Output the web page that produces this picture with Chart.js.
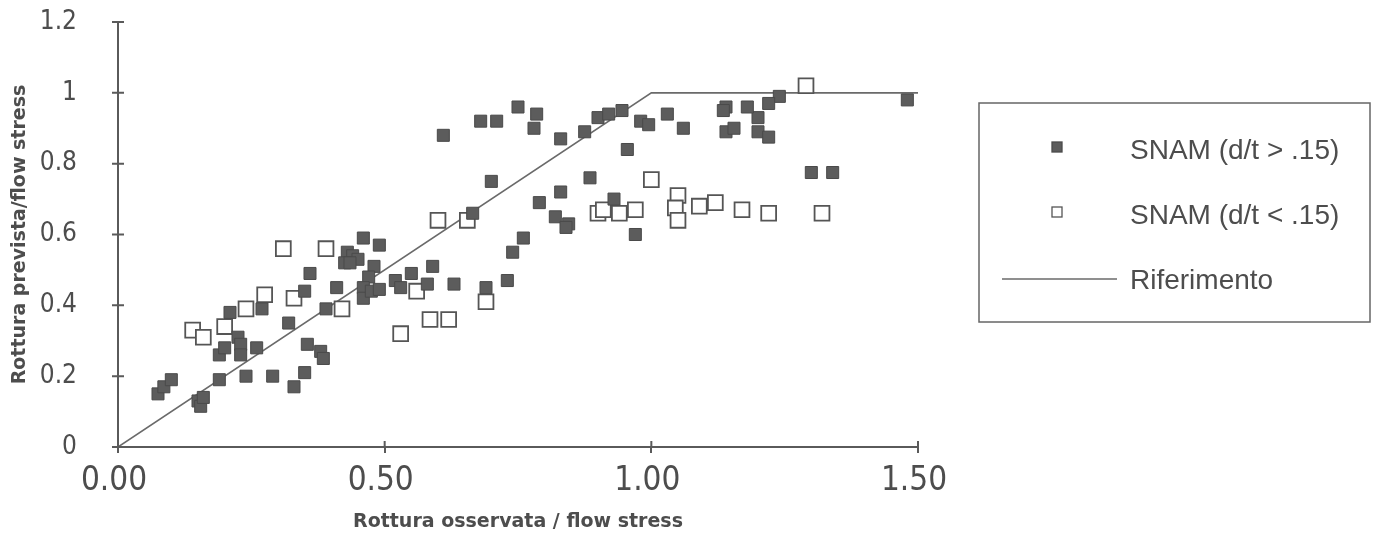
<!DOCTYPE html>
<html>
<head>
<meta charset="utf-8">
<title>Rottura prevista / rottura osservata</title>
<script src="https://cdn.jsdelivr.net/npm/chart.js@4.4.1/dist/chart.umd.min.js"></script>
<style>
  html, body { margin: 0; padding: 0; background: #ffffff; }
  #wrap { width: 1379px; height: 539px; }
</style>
</head>
<body>
<div id="wrap"><canvas id="chart" width="1379" height="539"></canvas></div>
<script>
// SNAM tests, d/t > .15 (filled squares)
const snamHighX = [
  0.075, 0.086, 0.10, 0.15, 0.155, 0.16, 0.19, 0.19, 0.20, 0.21,
  0.225, 0.23, 0.23, 0.24, 0.26, 0.27, 0.29, 0.32, 0.33, 0.35,
  0.355, 0.38, 0.385, 0.36, 0.35, 0.39, 0.41, 0.46, 0.49, 0.43,
  0.44, 0.45, 0.425, 0.435, 0.48, 0.47, 0.46, 0.46, 0.475, 0.49,
  0.52, 0.53, 0.55, 0.59, 0.58, 0.63, 0.69, 0.73, 0.74, 0.76,
  0.61, 0.68, 0.71, 0.75, 0.785, 0.78, 0.83, 0.875, 0.90, 0.92,
  0.945, 0.98, 0.995, 1.03, 0.955, 0.70, 0.665, 0.885, 0.83, 0.79,
  0.82, 0.845, 0.84, 0.93, 0.97, 1.24, 1.22, 1.20, 1.18, 1.14,
  1.135, 1.06, 1.14, 1.155, 1.20, 1.22, 1.30, 1.34, 1.48
];
const snamHighY = [
  0.15, 0.17, 0.19, 0.13, 0.115, 0.14, 0.19, 0.26, 0.28, 0.38,
  0.31, 0.29, 0.26, 0.20, 0.28, 0.39, 0.20, 0.35, 0.17, 0.21,
  0.29, 0.27, 0.25, 0.49, 0.44, 0.39, 0.45, 0.59, 0.57, 0.55,
  0.54, 0.53, 0.52, 0.52, 0.51, 0.48, 0.45, 0.42, 0.44, 0.445,
  0.47, 0.45, 0.49, 0.51, 0.46, 0.46, 0.45, 0.47, 0.55, 0.59,
  0.88, 0.92, 0.92, 0.96, 0.94, 0.90, 0.87, 0.89, 0.93, 0.94,
  0.95, 0.92, 0.91, 0.94, 0.84, 0.75, 0.66, 0.76, 0.72, 0.69,
  0.65, 0.63, 0.62, 0.70, 0.60, 0.99, 0.97, 0.93, 0.96, 0.96,
  0.95, 0.90, 0.89, 0.90, 0.89, 0.875, 0.775, 0.775, 0.98
];

// SNAM tests, d/t < .15 (open squares)
const snamLowX = [
  0.14, 0.16, 0.20, 0.24, 0.275, 0.31, 0.39, 0.33, 0.42, 0.56,
  0.53, 0.585, 0.62, 0.69, 0.60, 0.655, 1.00, 0.90, 0.91, 0.94,
  0.97, 1.05, 1.045, 1.05, 1.09, 1.12, 1.17, 1.22, 1.32, 1.29
];
const snamLowY = [
  0.33, 0.31, 0.34, 0.39, 0.43, 0.56, 0.56, 0.42, 0.39, 0.44,
  0.32, 0.36, 0.36, 0.41, 0.64, 0.64, 0.755, 0.66, 0.67, 0.66,
  0.67, 0.71, 0.675, 0.64, 0.68, 0.69, 0.67, 0.66, 0.66, 1.02
];

// Reference curve: predicted = observed up to 1, then flat
const refX = [0, 1.0, 1.5];
const refY = [0, 1.0, 1.0];

const xTickLabels = ['0.00', '0.50', '1.00', '1.50'];
const yTickLabels = ['0', '0.2', '0.4', '0.6', '0.8', '1', '1.2'];

const seriesLabels = ['SNAM (d/t > .15)', 'SNAM (d/t < .15)', 'Riferimento'];

const toPoints = (xs, ys) => xs.map((x, i) => ({ x: x, y: ys[i] }));

const INK = '#4d4d4d';
const AXIS = '#5a5a5a';
const NARROW = "'Liberation Sans Narrow', 'DejaVu Sans Condensed', 'Arial Narrow', sans-serif";

// Tick marks that cross the axis lines on both sides
const crossTicks = {
  id: 'crossTicks',
  afterDraw(chart) {
    const ctx = chart.ctx;
    const xs = chart.scales.x, ys = chart.scales.y;
    const len = 6;
    ctx.save();
    ctx.strokeStyle = AXIS;
    ctx.lineWidth = 2;
    ctx.beginPath();
    ys.ticks.forEach((t, i) => {
      const py = ys.getPixelForTick(i);
      ctx.moveTo(xs.left - len, py);
      ctx.lineTo(xs.left + len, py);
    });
    xs.ticks.forEach((t, i) => {
      const px = xs.getPixelForTick(i);
      ctx.moveTo(px, ys.bottom);
      ctx.lineTo(px, ys.bottom - len);
    });
    ctx.stroke();
    ctx.restore();
  }
};

// Boxed legend at the right of the plot
const boxLegend = {
  id: 'boxLegend',
  afterDraw(chart) {
    const ctx = chart.ctx;
    const box = { left: 979, top: 103, right: 1370, bottom: 322 };
    const rows = [151, 216, 281];
    const markX = 1057;
    const textX = 1130;
    ctx.save();
    ctx.strokeStyle = '#666666';
    ctx.lineWidth = 1.5;
    ctx.strokeRect(box.left, box.top, box.right - box.left, box.bottom - box.top);

    ctx.font = "28px 'Liberation Sans', Arial, sans-serif";
    ctx.fillStyle = INK;
    ctx.textBaseline = 'middle';
    ctx.textAlign = 'left';

    chart.data.datasets.forEach((ds, i) => {
      const y = rows[i];
      if (ds.showLine) {
        ctx.strokeStyle = ds.borderColor;
        ctx.lineWidth = ds.borderWidth;
        ctx.beginPath();
        ctx.moveTo(1002, y - 2);
        ctx.lineTo(1117, y - 2);
        ctx.stroke();
      } else {
        const s = 10;
        ctx.fillStyle = ds.backgroundColor;
        ctx.fillRect(markX - s / 2, y - 4 - s / 2, s, s);
        ctx.strokeStyle = ds.borderColor;
        ctx.lineWidth = 1.3;
        ctx.strokeRect(markX - s / 2, y - 4 - s / 2, s, s);
      }
      ctx.fillStyle = INK;
      ctx.fillText(ds.label, textX, y);
    });
    ctx.restore();
  }
};

new Chart(document.getElementById('chart'), {
  type: 'scatter',
  data: {
    datasets: [
      {
        label: seriesLabels[0],
        data: toPoints(snamHighX, snamHighY),
        pointStyle: 'rect',
        pointRadius: 8.5,
        backgroundColor: '#5c5c5c',
        borderColor: '#4a4a4a',
        borderWidth: 1,
        order: 1
      },
      {
        label: seriesLabels[1],
        data: toPoints(snamLowX, snamLowY),
        pointStyle: 'rect',
        pointRadius: 10.5,
        backgroundColor: '#ffffff',
        borderColor: '#555555',
        borderWidth: 1.8,
        order: 2
      },
      {
        label: seriesLabels[2],
        data: toPoints(refX, refY),
        showLine: true,
        pointRadius: 0,
        borderColor: '#6a6a6a',
        backgroundColor: '#6a6a6a',
        borderWidth: 1.6,
        order: 3
      }
    ]
  },
  options: {
    responsive: false,
    animation: false,
    layout: { padding: { top: 22, right: 461, bottom: 0, left: 0 } },
    plugins: {
      legend: { display: false },
      tooltip: { enabled: false }
    },
    scales: {
      x: {
        type: 'linear',
        min: 0,
        max: 1.5,
        border: { display: true, color: AXIS, width: 2 },
        grid: { display: true, drawOnChartArea: false, drawTicks: true, tickLength: 6, color: AXIS, lineWidth: 2 },
        ticks: {
          stepSize: 0.5,
          autoSkip: false,
          maxRotation: 0,
          padding: 9,
          labelOffset: -4,
          color: INK,
          font: { family: NARROW, size: 33 },
          callback: (v, i) => xTickLabels[i]
        },
        title: {
          display: true,
          text: 'Rottura osservata / flow stress',
          color: INK,
          font: { family: "'DejaVu Sans', sans-serif", size: 19, weight: 'bold' },
          padding: { top: 0, bottom: 6 }
        },
        afterFit: (scale) => { scale.height = 92; }
      },
      y: {
        type: 'linear',
        min: 0,
        max: 1.2,
        border: { display: true, color: AXIS, width: 2 },
        // long invisible tick keeps the labels well clear of the axis
        grid: { display: true, drawOnChartArea: false, drawTicks: true, tickLength: 41, tickColor: 'rgba(0,0,0,0)', color: AXIS, lineWidth: 2 },
        ticks: {
          stepSize: 0.2,
          autoSkip: false,
          padding: 0,
          color: INK,
          font: { family: NARROW, size: 26, lineHeight: 1 },
          callback: (v, i) => yTickLabels[i]
        },
        title: {
          display: true,
          text: 'Rottura prevista/flow stress',
          color: INK,
          font: { family: "'DejaVu Sans', sans-serif", size: 19, weight: 'bold' },
          padding: { top: 9, bottom: 0 }
        },
        afterFit: (scale) => { scale.width = 118; }
      }
    }
  },
  plugins: [crossTicks, boxLegend]
});
</script>
</body>
</html>
